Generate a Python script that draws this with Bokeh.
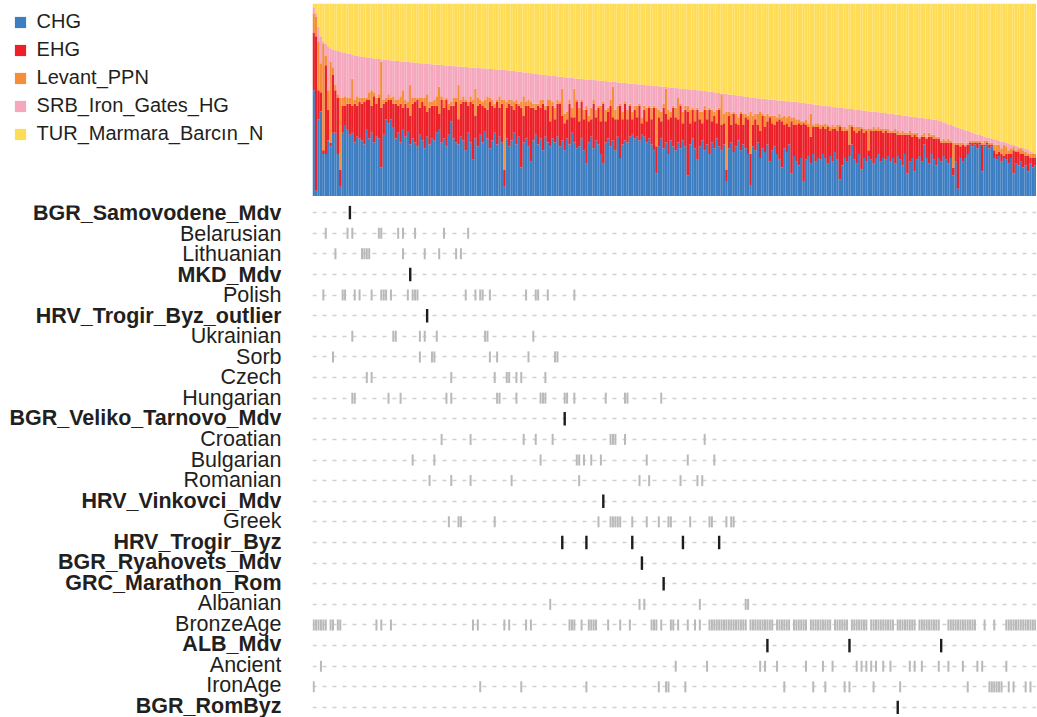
from bokeh.plotting import figure
from bokeh.models import ColumnDataSource, Range1d, FactorRange, Legend, LegendItem
from bokeh.layouts import column, row
from bokeh.embed import file_html
from bokeh.resources import INLINE
from bokeh.core.properties import value

# ---------------- admixture proportions (percent), samples sorted by TUR component ----------------
components = ["CHG", "EHG", "Levant_PPN", "SRB_Iron_Gates_HG", "TUR_Marmara_Barcın_N"]
component_keys = ["chg", "ehg", "levant", "srb", "tur"]
component_colors = ["#3d7dc1", "#ec2028", "#f68d39", "#f5a8bd", "#ffdc55"]

chg = [
    55, 3, 40, 44, 22, 22, 29, 26, 33, 33,
    22, 5, 33, 37, 35, 32, 33, 28, 31, 30,
    29, 27, 35, 30, 33, 28, 31, 30, 15, 32,
    40, 38, 40, 36, 30, 33, 28, 35, 31, 34,
    27, 30, 28, 26, 32, 29, 25, 31, 27, 30,
    29, 33, 35, 28, 30, 26, 32, 39, 30, 28,
    27, 31, 29, 24, 33, 28, 19, 30, 26, 32,
    28, 34, 30, 25, 29, 33, 27, 31, 28, 5,
    30, 26, 29, 33, 27, 31, 15, 28, 30, 26,
    18, 29, 32, 27, 30, 24, 31, 28, 26, 30,
    28, 31, 26, 29, 24, 30, 27, 33, 28, 25,
    26, 30, 24, 17, 28, 31, 25, 29, 27, 22,
    17, 28, 30, 26, 29, 24, 31, 20, 27, 29,
    28, 31, 32, 30, 31, 29, 32, 31, 28, 30,
    27, 24, 12, 26, 30, 25, 28, 22, 29, 26,
    24, 28, 25, 29, 26, 11, 27, 30, 25, 19,
    26, 29, 24, 27, 22, 28, 25, 30, 26, 24,
    27, 8, 25, 28, 23, 26, 29, 24, 27, 25,
    22, 6, 26, 24, 28, 20, 25, 23, 27, 18,
    24, 26, 22, 19, 15, 25, 23, 27, 12, 21,
    18, 16, 20, 8, 19, 21, 17, 22, 18, 20,
    19, 22, 20, 17, 21, 18, 23, 19, 9, 16,
    20, 18, 21, 27, 19, 17, 22, 14, 20, 18,
    21, 19, 17, 20, 22, 18, 20, 19, 21, 18,
    20, 17, 21, 19, 16, 22, 12, 18, 20, 13,
    19, 21, 18, 27, 20, 17, 22, 19, 16, 20,
    18, 21, 19, 17, 20, 11, 18, 4, 20, 18,
    20, 22, 27, 26, 27, 25, 27, 13, 26, 27,
    25, 26, 20, 19, 21, 18, 20, 19, 17, 20,
    12, 17, 16, 18, 15, 16, 13, 17, 15, 16,
]
ehg = [
    30, 80, 15, 10, 2, 46, 16, 2, 30, 22,
    29, 9, 14, 10, 13, 16, 14, 20, 16, 19,
    19, 22, 15, 20, 14, 24, 17, 21, 31, 16,
    9, 12, 10, 12, 18, 14, 20, 11, 17, 12,
    15, 18, 21, 24, 14, 20, 22, 13, 19, 17,
    18, 14, 8, 22, 16, 24, 13, 8, 17, 21,
    13, 17, 20, 25, 14, 21, 29, 12, 21, 16,
    19, 12, 15, 24, 18, 13, 22, 15, 20, 9,
    16, 22, 18, 12, 21, 16, 31, 14, 17, 21,
    28, 17, 13, 20, 16, 24, 14, 19, 13, 17,
    12, 17, 22, 13, 14, 10, 21, 8, 13, 24,
    13, 19, 16, 28, 11, 9, 23, 12, 19, 17,
    31, 11, 14, 21, 12, 16, 9, 27, 13, 19,
    12, 16, 8, 15, 10, 18, 6, 14, 11, 16,
    13, 22, 14, 15, 9, 21, 15, 18, 12, 20,
    17, 12, 22, 9, 19, 33, 11, 15, 14, 26,
    14, 9, 21, 13, 23, 11, 17, 8, 19, 13,
    11, 6, 17, 9, 20, 12, 8, 19, 10, 16,
    18, 16, 11, 16, 9, 14, 17, 13, 12, 23,
    14, 11, 17, 21, 24, 12, 15, 9, 27, 16,
    19, 22, 17, 30, 18, 15, 14, 14, 18, 16,
    16, 14, 15, 19, 13, 17, 12, 15, 27, 18,
    14, 16, 6, 9, 15, 16, 12, 21, 13, 16,
    3, 15, 17, 14, 12, 16, 13, 15, 12, 15,
    13, 16, 11, 13, 16, 10, 20, 14, 11, 19,
    12, 9, 13, 4, 10, 14, 9, 11, 14, 10,
    10, 7, 9, 11, 8, 4, 9, 23, 6, 9,
    6, 5, 1, 2, 1, 3, 1, 14, 1, 1,
    2, 1, 4, 3, 2, 4, 1, 3, 5, 2,
    12, 6, 7, 4, 7, 5, 8, 3, 5, 4,
]
levant = [
    10, 10, 25, 15, 55, 5, 10, 42, 4, 3,
    2, 37, 4, 5, 3, 3, 14, 2, 5, 2,
    3, 2, 1, 4, 8, 2, 3, 2, 24, 2,
    2, 3, 1, 4, 2, 3, 4, 9, 2, 3,
    16, 3, 2, 1, 5, 2, 4, 9, 3, 2,
    3, 5, 14, 2, 4, 1, 3, 2, 4, 2,
    18, 2, 3, 1, 2, 3, 2, 14, 4, 2,
    2, 4, 7, 2, 3, 2, 1, 6, 2, 36,
    3, 2, 3, 4, 2, 1, 3, 10, 2, 3,
    3, 2, 3, 1, 4, 2, 2, 3, 11, 2,
    6, 2, 1, 14, 5, 4, 2, 5, 15, 1,
    7, 1, 5, 2, 3, 6, 2, 4, 1, 8,
    1, 6, 2, 3, 16, 5, 7, 1, 4, 1,
    5, 1, 4, 2, 6, 1, 3, 2, 7, 1,
    6, 1, 20, 4, 5, 2, 13, 5, 3, 1,
    5, 11, 1, 6, 2, 3, 7, 1, 6, 1,
    4, 6, 2, 5, 1, 6, 2, 7, 1, 16,
    5, 30, 2, 6, 1, 5, 4, 1, 6, 2,
    2, 22, 5, 3, 6, 10, 1, 6, 4, 1,
    4, 5, 2, 3, 2, 5, 3, 6, 2, 4,
    3, 2, 2, 1, 3, 2, 12, 1, 2, 2,
    2, 1, 3, 1, 2, 2, 1, 3, 1, 2,
    2, 1, 10, 1, 2, 3, 2, 1, 2, 1,
    11, 1, 2, 1, 2, 1, 2, 1, 2, 1,
    1, 2, 2, 1, 2, 1, 1, 2, 2, 1,
    2, 1, 1, 2, 1, 2, 1, 2, 1, 1,
    1, 2, 1, 2, 1, 13, 1, 1, 2, 1,
    1, 1, 1, 1, 1, 1, 1, 1, 2, 1,
    1, 1, 3, 5, 4, 3, 6, 4, 2, 3,
    2, 1, 2, 3, 2, 2, 1, 2, 2, 2,
]
tur = [
    2, 5, 12, 17, 19.5, 21, 22.5, 23.2, 23.8, 24.2,
    24.6, 25, 25.3, 25.6, 25.9, 26.2, 26.5, 26.8, 27.1, 27.3,
    27.5, 27.7, 27.9, 28.1, 28.3, 28.5, 28.7, 28.8, 28.9, 29.1,
    29.2, 29.3, 29.5, 29.6, 29.7, 29.8, 30.0, 30.1, 30.2, 30.3,
    30.4, 30.5, 30.7, 30.8, 30.9, 31.0, 31.1, 31.3, 31.4, 31.5,
    31.6, 31.7, 31.8, 31.9, 32.0, 32.1, 32.2, 32.3, 32.4, 32.5,
    32.6, 32.7, 32.8, 32.9, 33.0, 33.1, 33.2, 33.3, 33.4, 33.5,
    33.6, 33.7, 33.8, 33.9, 34.0, 34.1, 34.2, 34.3, 34.4, 34.5,
    34.6, 34.7, 34.9, 35.0, 35.2, 35.4, 35.5, 35.7, 35.8, 36.0,
    36.1, 36.3, 36.5, 36.6, 36.8, 36.9, 37.1, 37.2, 37.4, 37.5,
    37.6, 37.8, 37.9, 38.0, 38.2, 38.3, 38.4, 38.6, 38.7, 38.8,
    39.0, 39.1, 39.2, 39.4, 39.5, 39.6, 39.7, 39.8, 39.9, 40.0,
    40.1, 40.2, 40.4, 40.5, 40.6, 40.7, 40.8, 41.0, 41.1, 41.2,
    41.3, 41.4, 41.6, 41.7, 41.8, 41.9, 42.0, 42.2, 42.3, 42.4,
    42.5, 42.6, 42.8, 42.9, 43.0, 43.1, 43.3, 43.4, 43.5, 43.6,
    43.8, 43.9, 44.0, 44.1, 44.3, 44.4, 44.5, 44.6, 44.8, 44.9,
    45.0, 45.2, 45.4, 45.5, 45.7, 45.9, 46.0, 46.2, 46.4, 46.6,
    46.7, 46.9, 47.1, 47.3, 47.4, 47.6, 47.8, 47.9, 48.1, 48.3,
    48.5, 48.7, 48.8, 48.9, 49.1, 49.2, 49.3, 49.4, 49.6, 49.7,
    49.8, 49.9, 50.1, 50.2, 50.3, 50.4, 50.6, 50.7, 50.8, 50.9,
    51.1, 51.2, 51.4, 51.5, 51.7, 51.9, 52.0, 52.2, 52.4, 52.5,
    52.7, 52.8, 53.0, 53.2, 53.3, 53.5, 53.7, 53.8, 54.0, 54.1,
    54.3, 54.4, 54.6, 54.7, 54.9, 55.0, 55.2, 55.3, 55.5, 55.6,
    55.8, 55.9, 56.1, 56.2, 56.4, 56.5, 56.7, 56.8, 57.0, 57.1,
    57.3, 57.5, 57.6, 57.8, 58.0, 58.2, 58.3, 58.5, 58.7, 58.8,
    59.0, 59.2, 59.3, 59.5, 59.7, 59.9, 60.0, 60.2, 60.4, 60.6,
    61.0, 61.5, 62.0, 62.5, 63.0, 63.4, 63.9, 64.3, 64.8, 65.2,
    65.7, 66.1, 66.5, 66.9, 67.3, 67.7, 68.1, 68.5, 68.9, 69.3,
    69.6, 70.0, 70.4, 70.7, 71.1, 71.5, 71.8, 72.2, 72.6, 73.0,
    73.3, 73.7, 74.1, 74.5, 74.9, 75.4, 75.9, 76.5, 77.1, 77.7,
]
# the five proportions of a sample sum to 100 %: SRB_Iron_Gates_HG is the remainder
srb = [max(0.0, round(100 - a - b - c - d, 1)) for a, b, c, d in zip(chg, ehg, levant, tur)]

# ---------------- sample membership of each population (sample positions in the sorted order) -------
groups = [
    "BGR_Samovodene_Mdv", "Belarusian", "Lithuanian", "MKD_Mdv", "Polish",
    "HRV_Trogir_Byz_outlier", "Ukrainian", "Sorb", "Czech", "Hungarian",
    "BGR_Veliko_Tarnovo_Mdv", "Croatian", "Bulgarian", "Romanian", "HRV_Vinkovci_Mdv",
    "Greek", "HRV_Trogir_Byz", "BGR_Ryahovets_Mdv", "GRC_Marathon_Rom", "Albanian",
    "BronzeAge", "ALB_Mdv", "Ancient", "IronAge", "BGR_RomByz",
]
study_groups = [
    "BGR_Samovodene_Mdv", "MKD_Mdv", "HRV_Trogir_Byz_outlier", "BGR_Veliko_Tarnovo_Mdv",
    "HRV_Vinkovci_Mdv", "HRV_Trogir_Byz", "BGR_Ryahovets_Mdv", "GRC_Marathon_Rom",
    "ALB_Mdv", "BGR_RomByz",
]

samovodene = [15]
belarusian = [5, 14, 16, 27, 28, 35, 37, 42, 54, 64]
lithuanian = [9, 20, 21, 22, 23, 37, 46, 52, 59, 61]
mkd = [40]
polish = [4, 12, 13, 17, 19, 24, 28, 29, 30, 32, 39, 41, 42, 43, 63, 67, 69, 70, 73, 88, 92, 93, 97, 108]
trogir_outlier = [47]
ukrainian = [16, 33, 34, 44, 46, 51, 71, 72, 91]
sorb = [8, 44, 49, 50, 73, 76, 89, 100, 101]
czech = [22, 24, 57, 75, 80, 81, 84, 86, 96]
hungarian = [16, 17, 31, 36, 55, 57, 76, 77, 84, 94, 95, 96, 104, 105, 108, 121, 129, 130, 144]
veliko_tarnovo = [104]
croatian = [53, 65, 87, 92, 99, 123, 124, 125, 129, 162]
bulgarian = [41, 50, 94, 109, 110, 112, 115, 119, 138, 155, 166]
romanian = [48, 57, 65, 82, 110, 135, 139, 152, 159, 161]
vinkovci = [120]
greek = [56, 60, 61, 75, 118, 123, 124, 125, 126, 127, 132, 138, 143, 147, 148, 156,
         164, 165, 171, 173, 174]
trogir = [103, 113, 132, 153, 168]
ryahovets = [136]
marathon = [145]
albanian = [98, 135, 137, 160, 179, 180]
bronze_age = [
    0, 1, 2, 3, 4, 5, 7, 8, 10, 11, 26, 28, 32, 66, 68, 79, 81, 88, 90,
    106, 107, 108, 111, 114, 115, 116, 117, 122, 127, 131, 140, 141, 142,
    144, 148, 149, 151, 155, 158, 160,
    164, 165, 166, 167, 168, 169, 170, 171, 172, 173, 174, 175, 176, 177, 178, 179,
    181, 182, 183, 184, 185, 186, 187, 188, 189, 190,
    192, 193, 194, 195, 196, 197, 199, 200, 201, 202, 203, 204, 206, 207, 208, 209,
    210, 211, 212, 213, 214,
    216, 217, 218, 219, 220, 221,
    223, 224, 225, 226, 227, 228, 229, 231, 232, 233, 234, 235, 236, 237, 238, 239,
    240, 242, 243, 244, 245, 246, 247, 248, 249, 251, 252, 253, 254, 255, 256, 257,
    258, 259,
    263, 264, 265, 266, 267, 268, 269, 270, 271, 272, 273, 274,
    278, 282,
    287, 288, 289, 290, 291, 292, 293, 294, 295, 296, 297, 298, 299,
]
alb_mdv = [188, 222, 260]
ancient = [3, 150, 163, 185, 187, 192, 204, 211, 215, 225, 227, 229, 231, 233, 236, 239,
           247, 249, 252, 259, 263, 269, 275, 277, 287]
iron_age = [0, 69, 86, 113, 143, 146, 147, 154, 195, 207, 212, 220, 222, 232, 243, 271,
            280, 281, 282, 283, 284, 285, 288, 290, 295, 297]
rombyz = [242]

members = dict(zip(groups, [
    samovodene, belarusian, lithuanian, mkd, polish, trogir_outlier, ukrainian, sorb,
    czech, hungarian, veliko_tarnovo, croatian, bulgarian, romanian, vinkovci, greek,
    trogir, ryahovets, marathon, albanian, bronze_age, alb_mdv, ancient, iron_age, rombyz,
]))

# ---------------- build ----------------
FONT = "Liberation Sans"
TEXT = "#231f20"
N = len(tur)
common = dict(output_backend="svg", toolbar_location=None, title=None,
              x_axis_location=None)

bar_src = ColumnDataSource(dict(idx=list(range(N)), chg=chg, ehg=ehg, levant=levant, srb=srb, tur=tur))
x_range = Range1d(-0.5, N - 0.5)

# admixture bars
p_top = figure(width=724, height=196, x_range=x_range, y_range=Range1d(0, 100),
               y_axis_location=None,
               min_border_left=0, min_border_right=0, min_border_top=3, min_border_bottom=0, **common)
p_top.grid.visible = False
p_top.outline_line_color = None
p_top.vbar_stack(component_keys, x="idx", width=1.0, color=component_colors,
                 line_color=None, source=bar_src)

# legend panel: same stacked series, its view window lies left of the samples so only the keys show
p_legend = figure(width=312, height=196, x_range=Range1d(-3, -2), y_range=Range1d(0, 100),
                  y_axis_location=None,
                  min_border_left=0, min_border_right=0, min_border_top=0, min_border_bottom=0, **common)
p_legend.grid.visible = False
p_legend.outline_line_color = None
keys = p_legend.vbar_stack(component_keys, x="idx", width=1.0, color=component_colors,
                           line_color=None, source=bar_src)
legend = Legend(items=[LegendItem(label=lab, renderers=[r]) for lab, r in zip(components, keys)],
                location=(12.6, 51), orientation="vertical",
                label_text_font=FONT, label_text_font_size="20px", label_text_color=TEXT,
                glyph_width=14, glyph_height=14, label_standoff=10, spacing=5, label_height=22,
                padding=0, margin=0, border_line_color=None, background_fill_alpha=0)
p_legend.add_layout(legend)

factors = list(reversed(groups))
rows_range = FactorRange(factors=factors, range_padding=-0.16, range_padding_units="absolute")
labels_range = FactorRange(factors=factors, range_padding=-0.0145, range_padding_units="absolute")

# population labels
p_labels = figure(width=312, height=521, x_range=Range1d(0, 1), y_range=labels_range,
                  y_axis_location=None,
                  min_border_left=0, min_border_right=31, min_border_top=6, min_border_bottom=0, **common)
p_labels.grid.visible = False
p_labels.outline_line_color = None
lab_src = ColumnDataSource(dict(group=groups,
                                style=["bold" if g in study_groups else "normal" for g in groups]))
p_labels.text(x=1, y="group", text="group", source=lab_src, text_align="right",
              text_baseline="middle", y_offset=-2, text_font=value(FONT), text_font_size="21.5px",
              text_font_style="style", text_color=TEXT)

# membership rows
p_rows = figure(width=724, height=518, x_range=x_range, y_range=rows_range,
                min_border_left=0, min_border_right=0, min_border_top=9, min_border_bottom=0, **common)
p_rows.yaxis.visible = False
p_rows.xgrid.visible = False
p_rows.outline_line_color = None
p_rows.ygrid.grid_line_color = "#d0d0d0"
p_rows.ygrid.grid_line_dash = "4 6"
p_rows.ygrid.grid_line_width = 1.5

bg_x, bg_y, st_x, st_y = [], [], [], []
for g in groups:
    for i in members[g]:
        if g in study_groups:
            st_x.append(i); st_y.append(g)
        else:
            bg_x.append(i); bg_y.append(g)
p_rows.rect(x="x", y="g", width=2, height=11, width_units="screen", height_units="screen",
            source=ColumnDataSource(dict(x=bg_x, g=bg_y)), fill_color="#b9b9b9", line_color=None)
p_rows.rect(x="x", y="g", width=2.4, height=13.5, width_units="screen", height_units="screen",
            source=ColumnDataSource(dict(x=st_x, g=st_y)), fill_color="#1c1c1c", line_color=None)

layout = column(row(p_legend, p_top), row(p_labels, p_rows))

open("out.html", "w").write(file_html(layout, INLINE))
